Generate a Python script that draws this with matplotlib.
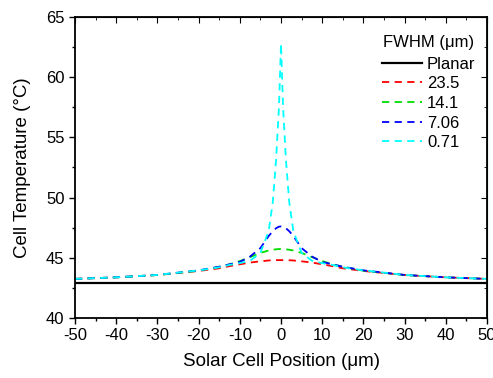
import matplotlib.pyplot as plt
import numpy as np
from matplotlib.ticker import MultipleLocator

plt.rcParams['font.family'] = ['Liberation Sans', 'DejaVu Sans']
plt.rcParams['axes.unicode_minus'] = False

# positions (um)
x = [-50, -40, -30, -20, -15, -12.5, -10, -7.5, -5, -3, -2, -1.2, -0.5, 0,
     0.5, 1.2, 2, 3, 5, 7.5, 10, 12.5, 15, 20, 30, 40, 50]

planar = [42.93] * len(x)
fw235 = [43.24, 43.37, 43.56, 43.9, 44.12, 44.3, 44.45, 44.6, 44.7, 44.77, 44.79, 44.8, 44.8, 44.8,
         44.8, 44.8, 44.79, 44.77, 44.7, 44.6, 44.45, 44.3, 44.12, 43.9, 43.56, 43.37, 43.24]
fw141 = [43.24, 43.37, 43.56, 43.92, 44.25, 44.45, 44.72, 45.05, 45.4, 45.6, 45.66, 45.7, 45.72, 45.73,
         45.72, 45.7, 45.66, 45.6, 45.4, 45.05, 44.72, 44.45, 44.25, 43.92, 43.56, 43.37, 43.24]
fw706 = [43.24, 43.37, 43.57, 43.95, 44.25, 44.45, 44.65, 45.1, 45.8, 46.8, 47.2, 47.45, 47.58, 47.6,
         47.58, 47.45, 47.2, 46.8, 45.8, 45.1, 44.65, 44.45, 44.25, 43.95, 43.57, 43.37, 43.24]
fw071 = [43.24, 43.37, 43.57, 43.95, 44.2, 44.4, 44.55, 44.75, 45.4, 47.2, 49.6, 53.1, 57.5, 62.8,
         57.5, 53.1, 49.6, 47.2, 45.4, 44.75, 44.55, 44.4, 44.2, 43.95, 43.57, 43.37, 43.24]

fig = plt.figure(figsize=(4.93, 3.78), dpi=100)
ax = fig.add_axes([0.152, 0.159, 0.836, 0.796])

ax.plot(x, planar, color='black', lw=1.6, label='Planar')
ax.plot(x, fw235, color='red', lw=1.3, dashes=(4, 3), label='23.5')
ax.plot(x, fw141, color='#00dd00', lw=1.3, dashes=(4, 3), label='14.1')
ax.plot(x, fw706, color='blue', lw=1.3, dashes=(4, 3), label='7.06')
ax.plot(x, fw071, color='cyan', lw=1.3, dashes=(4, 3), label='0.71')

ax.set_xlim(-50, 50)
ax.set_ylim(40, 65)
ax.xaxis.set_major_locator(MultipleLocator(10))
ax.xaxis.set_minor_locator(MultipleLocator(5))
ax.yaxis.set_major_locator(MultipleLocator(5))
ax.yaxis.set_minor_locator(MultipleLocator(2.5))
ax.tick_params(which='major', direction='out', length=4, width=1, labelsize=12)
ax.tick_params(which='minor', direction='out', length=2.5, width=1)

# inward ticks on top and right
top = ax.secondary_xaxis('top')
top.xaxis.set_major_locator(MultipleLocator(10))
top.xaxis.set_minor_locator(MultipleLocator(5))
top.tick_params(which='both', direction='in', labeltop=False)
top.tick_params(which='major', length=4)
top.tick_params(which='minor', length=2.5)
right = ax.secondary_yaxis('right')
right.yaxis.set_major_locator(MultipleLocator(5))
right.yaxis.set_minor_locator(MultipleLocator(2.5))
right.tick_params(which='both', direction='in', labelright=False)
right.tick_params(which='major', length=4)
right.tick_params(which='minor', length=2.5)

for s in ax.spines.values():
    s.set_linewidth(1.3)

ax.set_xlabel('Solar Cell Position (μm)', fontsize=13.5, labelpad=7)
ax.set_ylabel('Cell Temperature (°C)', fontsize=13.5, labelpad=11)

leg = ax.legend(title='FWHM (μm)', loc='upper right', bbox_to_anchor=(1.0, 0.98),
                frameon=False, fontsize=12, title_fontsize=12, handlelength=2.4,
                handletextpad=0.3, labelspacing=0.28, borderaxespad=0.3)
leg._legend_box.sep = 5

fig.savefig('out.png', dpi=100)
